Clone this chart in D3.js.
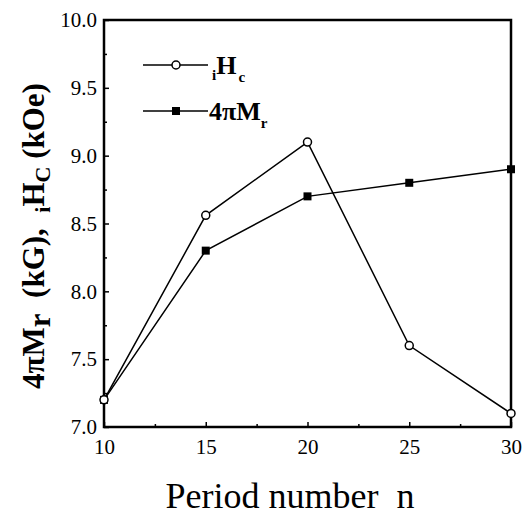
<!DOCTYPE html>
<html lang="en">
<head>
  <meta charset="utf-8" />
  <title>Period number chart</title>
  <script src="https://d3js.org/d3.v7.min.js"></script>
  <style>
    body { margin: 0; background: #fff; }
  </style>
</head>
<body>
<script>
  // data
  var periods = [10, 15, 20, 25, 30];
  var hcValues = [7.2, 8.56, 9.1, 7.6, 7.1];   // iHc (kOe)
  var mrValues = [7.2, 8.3, 8.7, 8.8, 8.9];    // 4πMr (kG)
  var xTicks = [10, 15, 20, 25, 30];
  var yTicks = [7.0, 7.5, 8.0, 8.5, 9.0, 9.5, 10.0];

  var serif = "'Liberation Serif'";
  var width = 527, height = 516;
  var margin = {top: 20, right: 16, bottom: 89, left: 104};

  var svg = d3.select("body").append("svg")
    .attr("width", width)
    .attr("height", height);

  var x = d3.scaleLinear().domain([10, 30]).range([margin.left, width - margin.right]);
  var y = d3.scaleLinear().domain([7, 10]).range([height - margin.bottom, margin.top]);

  // minor ticks
  var xMinor = d3.range(12.5, 30, 5);
  var yMinor = d3.range(7.25, 10, 0.5);

  svg.append("g")
    .attr("transform", "translate(0," + y(7) + ")")
    .call(d3.axisBottom(x).tickValues(xMinor).tickSize(-3).tickFormat(""))
    .call(function(g) { g.select(".domain").remove(); g.selectAll("line").attr("stroke-width", 1.5); });
  svg.append("g")
    .attr("transform", "translate(" + x(10) + ",0)")
    .call(d3.axisLeft(y).tickValues(yMinor).tickSize(-3).tickFormat(""))
    .call(function(g) { g.select(".domain").remove(); g.selectAll("line").attr("stroke-width", 1.5); });

  var xAxis = svg.append("g")
    .attr("transform", "translate(0," + y(7) + ")")
    .call(d3.axisBottom(x).tickValues(xTicks).tickSize(-5).tickPadding(12).tickFormat(d3.format("d")));
  xAxis.attr("font-family", null).attr("font-size", null);
  xAxis.select(".domain").remove();
  xAxis.selectAll("line").attr("stroke-width", 1.5);
  xAxis.selectAll("text").style("font-size", "21px").style("font-family", serif);

  var yAxis = svg.append("g")
    .attr("transform", "translate(" + x(10) + ",0)")
    .call(d3.axisLeft(y).tickValues(yTicks).tickSize(-5).tickPadding(7).tickFormat(d3.format(".1f")));
  yAxis.attr("font-family", null).attr("font-size", null);
  yAxis.select(".domain").remove();
  yAxis.selectAll("line").attr("stroke-width", 1.5);
  yAxis.selectAll("text").style("font-size", "21px").style("font-family", serif);

  // frame
  svg.append("rect")
    .attr("x", x(10)).attr("y", y(10))
    .attr("width", x(30) - x(10)).attr("height", y(7) - y(10))
    .attr("fill", "none").attr("stroke", "#000").attr("stroke-width", 2.5);

  var line = d3.line()
    .x(function(d, i) { return x(periods[i]); })
    .y(function(d) { return y(d); });

  svg.append("path").datum(hcValues)
    .attr("d", line).attr("fill", "none").attr("stroke", "#000").attr("stroke-width", 1.5);
  svg.append("path").datum(mrValues)
    .attr("d", line).attr("fill", "none").attr("stroke", "#000").attr("stroke-width", 1.5);

  svg.selectAll("rect.mr").data(mrValues).enter().append("rect")
    .attr("class", "mr")
    .attr("x", function(d, i) { return x(periods[i]) - 4; })
    .attr("y", function(d) { return y(d) - 4; })
    .attr("width", 8).attr("height", 8)
    .attr("fill", "#000");

  svg.selectAll("circle.hc").data(hcValues).enter().append("circle")
    .attr("class", "hc")
    .attr("cx", function(d, i) { return x(periods[i]); })
    .attr("cy", function(d) { return y(d); })
    .attr("r", 4)
    .attr("fill", "#fff").attr("stroke", "#000").attr("stroke-width", 1.5);

  // legend
  var leg = svg.append("g");
  leg.append("line").attr("x1", 143).attr("x2", 208).attr("y1", 65).attr("y2", 65)
    .attr("stroke", "#000").attr("stroke-width", 1.5);
  leg.append("circle").attr("cx", 176).attr("cy", 65).attr("r", 4)
    .attr("fill", "#fff").attr("stroke", "#000").attr("stroke-width", 1.5);
  var t1 = leg.append("text").attr("x", 212).attr("y", 74)
    .style("font-family", serif).style("font-size", "26px").style("font-weight", "bold");
  t1.append("tspan").text("i").style("font-size", "15px").attr("dy", 6);
  t1.append("tspan").text("H").attr("dy", -6);
  t1.append("tspan").text("c").style("font-size", "15px").attr("dy", 8).attr("dx", 2);

  leg.append("line").attr("x1", 143).attr("x2", 208).attr("y1", 111).attr("y2", 111)
    .attr("stroke", "#000").attr("stroke-width", 1.5);
  leg.append("rect").attr("x", 172).attr("y", 107).attr("width", 8).attr("height", 8)
    .attr("fill", "#000");
  var t2 = leg.append("text").attr("x", 209).attr("y", 120)
    .style("font-family", serif).style("font-size", "26px").style("font-weight", "bold");
  t2.append("tspan").text("4πM");
  t2.append("tspan").text("r").style("font-size", "15px").attr("dy", 8);

  // axis titles
  svg.append("text")
    .attr("x", 290).attr("y", 508)
    .attr("text-anchor", "middle")
    .style("font-family", serif).style("font-size", "36px")
    .text("Period number\u00a0\u00a0n");

  var yt = svg.append("text")
    .attr("transform", "translate(44,236) rotate(-90)")
    .attr("text-anchor", "middle")
    .style("font-family", serif).style("font-size", "31px").style("font-weight", "bold");
  yt.append("tspan").text("4πM");
  yt.append("tspan").text("r").attr("dy", 6);
  yt.append("tspan").text("\u00a0\u00a0(kG),\u00a0\u00a0").attr("dy", -6);
  yt.append("tspan").text("i").style("font-size", "22px").attr("dy", 6);
  yt.append("tspan").text("H").attr("dy", -6);
  yt.append("tspan").text("C").style("font-size", "22px").attr("dy", 6);
  yt.append("tspan").text("\u00a0(kOe)").attr("dy", -6);
</script>
</body>
</html>
